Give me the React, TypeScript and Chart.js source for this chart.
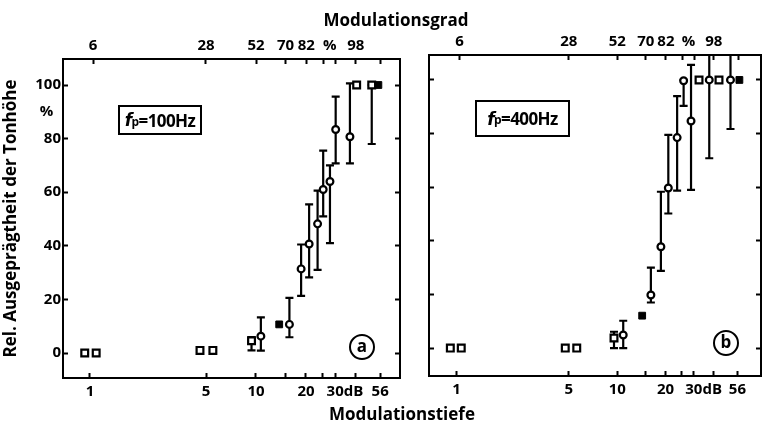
import React, { useEffect, useRef } from 'react';
import { Chart, registerables } from 'chart.js';

Chart.register(...registerables);

const FONT = '"Open Sans", "DejaVu Sans", sans-serif';

// ---- axis ticks ----
const bottomTickDb = [1, 5, 10, 15, 20, 25, 30, 40, 56];
const bottomTickLabels = ['1', '5', '10', '', '20', '', '     30dB', '', '56'];
const topTickPct = [6, 28, 52, 70, 82, 90, 94, 98, 99.7];
const topTickLabels = ['6', '28', '52', '70', '82', '', '%   ', '98', ''];
const yTicks = [0, 20, 40, 60, 80, 90, 100];
const yTickLabels = ['0', '20', '40', '60', '80', '%  ', '100'];
const yRightTicks = [0, 20, 40, 60, 80, 100];

// ---- panel a (fp = 100 Hz) ----
const aCircleDb = [10.7, 15.9, 18.7, 20.9, 23.5, 25.4, 27.9, 30.2, 36.8];
const aCircleVal = [6.3, 10.7, 31.4, 40.7, 48.2, 61, 64, 83.4, 80.7];
const aCircleLow = [0.9, 5.9, 21.3, 28.2, 31, 51, 41, 70.8, 70.8];
const aCircleHigh = [13.3, 20.6, 40.5, 55.5, 60.6, 75.5, 70, 95.7, 100.6];
const aSquareDb = [0.93, 1.09, 4.6, 5.5, 9.4, 40.4, 49.8];
const aSquareVal = [0, 0, 1, 1, 4.6, 100, 100];
const aSquareLow = [null, null, null, null, 1, null, 78];
const aSquareHigh = [null, null, null, null, 6, null, 100];
const aFilledDb = [13.8, 54.6];
const aFilledVal = [10.7, 100];

// ---- panel b (fp = 400 Hz) ----
const bCircleDb = [10.9, 16.2, 18.7, 20.8, 23.6, 25.9, 28.8, 37.4, 50.7];
const bCircleVal = [4.9, 19.8, 37.8, 59.7, 78.5, 99.7, 84.7, 100, 100];
const bCircleLow = [0, 17, 28.8, 50.2, 58.7, 90.3, 59, 70.8, 81.7];
const bCircleHigh = [10.2, 30, 58.3, 79.5, 94, 100, 105.6, 112, 112];
const bSquareDb = [0.915, 1.07, 4.75, 5.6, 9.55, 32.3, 43];
const bSquareVal = [0, 0, 0, 0, 3.8, 100, 100];
const bSquareLow = [null, null, null, null, 0, null, null];
const bSquareHigh = [null, null, null, null, 6.1, null, null];
const bFilledDb = [14.3, 57.6];
const bFilledVal = [12.1, 100];

const pctToDb = (p: number) => 20 * Math.log10((100 + p) / (100 - p));

const errorBars = {
  id: 'errorBars',
  beforeDatasetsDraw(chart: any) {
    const { ctx, chartArea, scales } = chart;
    ctx.save();
    ctx.beginPath();
    ctx.rect(chartArea.left, chartArea.top - 1, chartArea.right - chartArea.left, chartArea.bottom - chartArea.top + 1);
    ctx.clip();
    ctx.strokeStyle = '#000';
    ctx.lineWidth = 2.2;
    chart.data.datasets.forEach((ds: any) => {
      if (!ds.errLow) return;
      ds.data.forEach((pt: any, i: number) => {
        const lo = ds.errLow[i];
        const hi = ds.errHigh[i];
        if (lo == null || hi == null) return;
        const x = scales.x.getPixelForValue(pt.x);
        const y1 = scales.y.getPixelForValue(lo);
        const y2 = scales.y.getPixelForValue(hi);
        ctx.beginPath();
        ctx.moveTo(x, y1);
        ctx.lineTo(x, y2);
        ctx.moveTo(x - 4, y1);
        ctx.lineTo(x + 4, y1);
        ctx.moveTo(x - 4, y2);
        ctx.lineTo(x + 4, y2);
        ctx.stroke();
      });
    });
    ctx.restore();
  },
};

interface Panel {
  circleDb: number[]; circleVal: number[]; circleLow: number[]; circleHigh: number[];
  squareDb: number[]; squareVal: number[]; squareLow: (number | null)[]; squareHigh: (number | null)[];
  filledDb: number[]; filledVal: number[];
  xMin: number; xMax: number; yMin: number; yMax: number;
  leftW: number; rightW: number; topH: number; bottomH: number;
  showYLabels: boolean;
}

const zip = (xs: number[], ys: number[]) => xs.map((x, i) => ({ x, y: ys[i] }));

function makeConfig(p: Panel): any {
  const tickFont = { family: FONT, size: 15, weight: 700 };
  const grid = { drawOnChartArea: false, drawTicks: true, tickLength: -5, tickWidth: 2, color: '#000' };
  const border = { display: true, color: '#000', width: 2 };
  return {
    type: 'scatter',
    data: {
      datasets: [
        {
          data: zip(p.circleDb, p.circleVal), errLow: p.circleLow, errHigh: p.circleHigh,
          pointStyle: 'circle', pointRadius: 3.4, borderWidth: 2.2, borderColor: '#000', backgroundColor: '#fff',
        },
        {
          data: zip(p.squareDb, p.squareVal), errLow: p.squareLow, errHigh: p.squareHigh,
          pointStyle: 'rect', pointRadius: 4.8, borderWidth: 2.2, borderColor: '#000', backgroundColor: '#fff',
        },
        {
          data: zip(p.filledDb, p.filledVal),
          pointStyle: 'rect', pointRadius: 4.8, borderWidth: 1, borderColor: '#000', backgroundColor: '#000',
        },
      ],
    },
    options: {
      animation: false,
      responsive: false,
      devicePixelRatio: 1,
      layout: { padding: 0 },
      plugins: { legend: { display: false }, tooltip: { enabled: false }, title: { display: false } },
      scales: {
        x: {
          type: 'logarithmic', position: 'bottom', min: p.xMin, max: p.xMax,
          afterBuildTicks: (s: any) => { s.ticks = bottomTickDb.map((v) => ({ value: v })); },
          afterFit: (s: any) => { s.height = p.bottomH; },
          ticks: { autoSkip: false, maxRotation: 0, minRotation: 0, padding: 10, color: '#000', font: tickFont,
            callback: (_v: any, i: number) => bottomTickLabels[i] },
          grid, border,
        },
        x2: {
          type: 'logarithmic', position: 'top', min: p.xMin, max: p.xMax,
          afterBuildTicks: (s: any) => { s.ticks = topTickPct.map((v) => ({ value: pctToDb(v) })); },
          afterFit: (s: any) => { s.height = p.topH; },
          ticks: { autoSkip: false, maxRotation: 0, minRotation: 0, padding: 9, color: '#000', font: tickFont,
            callback: (_v: any, i: number) => topTickLabels[i] },
          grid, border,
        },
        y: {
          type: 'linear', position: 'left', min: p.yMin, max: p.yMax,
          afterBuildTicks: (s: any) => { s.ticks = yTicks.map((v) => ({ value: v })); },
          afterFit: (s: any) => { s.width = p.leftW; },
          ticks: { display: p.showYLabels, autoSkip: false, padding: 7, color: '#000', font: tickFont,
            callback: (_v: any, i: number) => yTickLabels[i] },
          grid: { ...grid, tickColor: (c: any) => (c.tick && c.tick.value === 90 ? 'rgba(0,0,0,0)' : '#000') },
          border,
          title: {
            display: p.showYLabels, text: 'Rel. Ausgeprägtheit der Tonhöhe', color: '#000',
            font: { family: FONT, size: 17, weight: 700 }, padding: { top: 1, bottom: 0 },
          },
        },
        y2: {
          type: 'linear', position: 'right', min: p.yMin, max: p.yMax,
          afterBuildTicks: (s: any) => { s.ticks = yRightTicks.map((v) => ({ value: v })); },
          afterFit: (s: any) => { s.width = p.rightW; },
          ticks: { display: false },
          grid, border,
        },
      },
    },
    plugins: [errorBars],
  };
}

const panelA: Panel = {
  circleDb: aCircleDb, circleVal: aCircleVal, circleLow: aCircleLow, circleHigh: aCircleHigh,
  squareDb: aSquareDb, squareVal: aSquareVal, squareLow: aSquareLow, squareHigh: aSquareHigh,
  filledDb: aFilledDb, filledVal: aFilledVal,
  xMin: 0.688, xMax: 73.7, yMin: -9.3, yMax: 109.7,
  leftW: 63, rightW: 14, topH: 59, bottomH: 48, showYLabels: true,
};

const panelB: Panel = {
  circleDb: bCircleDb, circleVal: bCircleVal, circleLow: bCircleLow, circleHigh: bCircleHigh,
  squareDb: bSquareDb, squareVal: bSquareVal, squareLow: bSquareLow, squareHigh: bSquareHigh,
  filledDb: bFilledDb, filledVal: bFilledVal,
  xMin: 0.674, xMax: 78.5, yMin: -10.4, yMax: 109.3,
  leftW: 15, rightW: 1, topH: 55, bottomH: 50, showYLabels: false,
};

function PanelChart({ panel, left, width }: { panel: Panel; left: number; width: number }) {
  const ref = useRef<HTMLCanvasElement>(null);
  useEffect(() => {
    if (!ref.current) return;
    const chart = new Chart(ref.current, makeConfig(panel));
    return () => chart.destroy();
  }, [panel]);
  return (
    <canvas ref={ref} width={width} height={426}
      style={{ position: 'absolute', left, top: 0, width, height: 426 }} />
  );
}

const textStyle: React.CSSProperties = {
  position: 'absolute', fontFamily: FONT, fontWeight: 700, color: '#000', whiteSpace: 'nowrap',
};

function FpBox({ left, top, width, height, freq }: { left: number; top: number; width: number; height: number; freq: string }) {
  return (
    <div style={{ ...textStyle, left, top, width, height, border: '2px solid #000', boxSizing: 'border-box',
      display: 'flex', alignItems: 'center', justifyContent: 'center', fontSize: 17, letterSpacing: -0.6 }}>
      <i style={{ fontFamily: '"DejaVu Sans", sans-serif', fontWeight: 700 }}>f</i>
      <sub style={{ fontSize: 12, position: 'relative', top: 1 }}>p</sub>
      <span>={freq}</span>
    </div>
  );
}

function CircleLabel({ cx, cy, text }: { cx: number; cy: number; text: string }) {
  return (
    <div style={{ ...textStyle, left: cx - 13, top: cy - 13, width: 26, height: 26, border: '2px solid #000',
      borderRadius: '50%', boxSizing: 'border-box', display: 'flex', alignItems: 'center', justifyContent: 'center',
      fontSize: 17, lineHeight: '20px', paddingBottom: 2 }}>
      {text}
    </div>
  );
}

export default function App() {
  return (
    <div style={{ position: 'absolute', left: 0, top: 0, width: 768, height: 426, background: '#fff', overflow: 'hidden' }}>
      <PanelChart panel={panelA} left={0} width={414} />
      <PanelChart panel={panelB} left={414} width={354} />
      <div style={{ ...textStyle, left: 296, top: 10, width: 200, textAlign: 'center', fontSize: 17, lineHeight: '20px' }}>
        Modulationsgrad
      </div>
      <div style={{ ...textStyle, left: 302, top: 404, width: 200, textAlign: 'center', fontSize: 17, lineHeight: '20px' }}>
        Modulationstiefe
      </div>
      <FpBox left={118} top={105} width={84} height={30} freq="100Hz" />
      <FpBox left={475} top={100} width={95} height={37} freq="400Hz" />
      <CircleLabel cx={362} cy={347} text="a" />
      <CircleLabel cx={726} cy={343} text="b" />
    </div>
  );
}
